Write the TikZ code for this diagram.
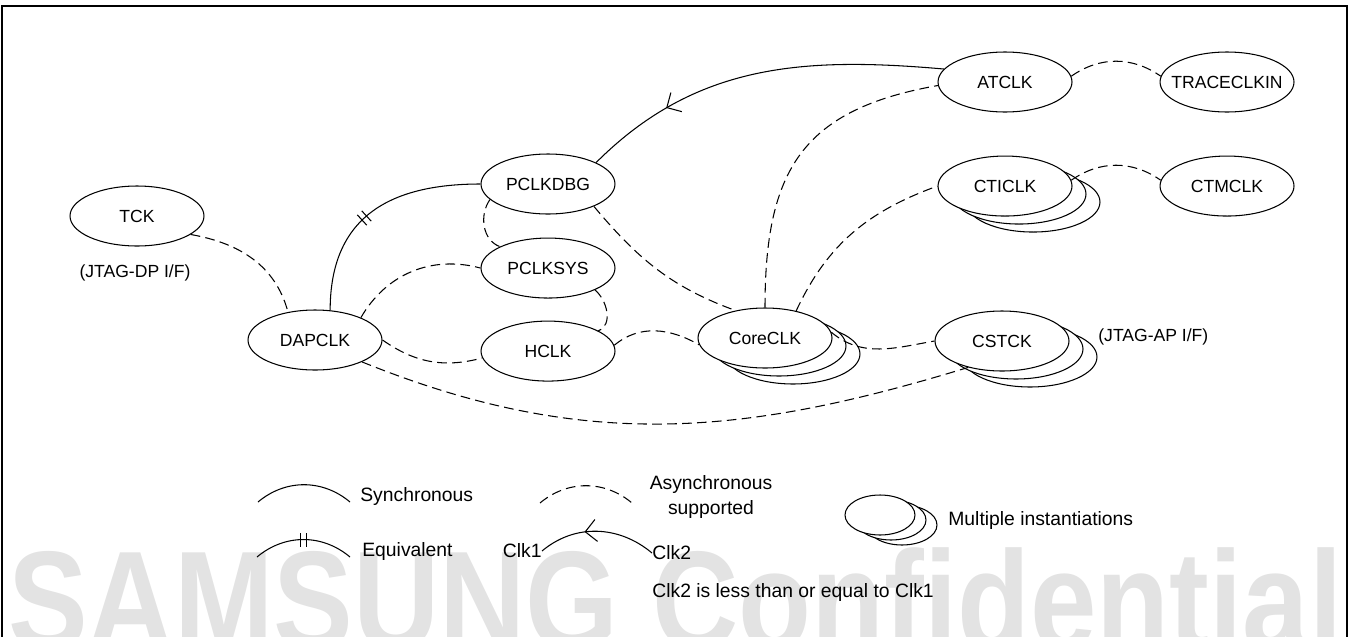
\documentclass[tikz,border=0pt]{standalone}
\usepackage{fontspec}
\setmainfont{Liberation Sans}
\usepackage{tikz}
\usetikzlibrary{positioning,shapes.geometric,shadows,decorations.markings}
\definecolor{wmgray}{HTML}{E3E3E3}
\tikzset{
  clk/.style={ellipse, draw, fill=white, line width=0.6pt, minimum width=2.68cm, minimum height=1.2cm, inner sep=0pt, font=\fontsize{10}{12}\selectfont},
  multi/.style={double copy shadow={shadow xshift=0.28cm, shadow yshift=-0.16cm, fill=white, draw=black, line width=0.6pt}},
  lbl/.style={inner sep=0pt, font=\fontsize{10}{12}\selectfont},
  leg/.style={inner sep=0pt, font=\fontsize{11}{14}\selectfont},
  sync/.style={line width=0.6pt},
  async/.style={line width=0.6pt, dash pattern=on 5.5pt off 3pt},
  equiv/.style={postaction={decorate, decoration={markings, mark=at position #1 with {\draw[solid] (-3,-7) -- (-3,7) (3,-7) -- (3,7);}}}},
  slower/.style={postaction={decorate, decoration={markings, mark=at position #1 with {\draw[solid] (11,-11) -- (0,0) -- (11,11);}}}},
  wmark/.style={inner sep=0pt, text=wmgray, font=\fontsize{80}{90}\selectfont\bfseries},
  frame/.style={line width=1.2pt}
}

\begin{document}
\begin{tikzpicture}[x=0.02cm, y=0.02cm]
  \useasboundingbox (0,0) rectangle (1355,-636);
  % watermark and frame
  \node[wmark, anchor=base west, xscale=0.85] (wm) at (8,-649) {SAMSUNG Confidential};
  \draw[frame] (2,-640) -- (2,-6) -- (1347,-6) -- (1347,-640);

  % clock domains
  \node[clk] (tck) at (137,-216) {TCK};
  \node[lbl] (jtagdp) at (135,-273) {(JTAG-DP I/F)};
  \node[clk] (dapclk) at (315,-340) {DAPCLK};
  \node[clk] (pclkdbg) at (548,-184) {PCLKDBG};
  \node[clk, below=0.46cm of pclkdbg] (pclksys) {PCLKSYS};
  \node[clk, below=0.44cm of pclksys] (hclk) {HCLK};
  \node[clk, multi] (coreclk) at (765,-338) {CoreCLK};
  \node[clk, multi] (cstck) at (1002,-341) {CSTCK};
  \node[lbl, anchor=west] (jtagap) at (1098,-337) {(JTAG-AP I/F)};
  \node[clk] (atclk) at (1005,-82) {ATCLK};
  \node[clk, right=1.74cm of atclk] (traceclkin) {\makebox[0pt]{TRACECLKIN}};
  \node[clk, multi, below=0.86cm of atclk] (cticlk) {CTICLK};
  \node[clk, right=1.74cm of cticlk] (ctmclk) {CTMCLK};

  % relations
  \draw[async] (tck.-19) to[out=-10, in=105] (dapclk.134);
  \draw[sync, equiv=0.45] (dapclk.63) to[out=90, in=180, looseness=1.2] (pclkdbg.west);
  \draw[sync, slower=0.24] (pclkdbg.24) to[out=45, in=175] (atclk.168);
  \draw[async] (pclkdbg.195) to[out=235, in=160] (pclksys.156);
  \draw[async] (pclksys.-25) to[out=-40, in=20] (hclk.22);
  \draw[async] (dapclk.26) to[out=60, in=165] (pclksys.west);
  \draw[async] (dapclk.east) to[out=-35, in=195] (hclk.186);
  \draw[async] (dapclk.-25) to[out=-22, in=197] (cstck.218);
  \draw[async] (pclkdbg.-26) to[out=-50, in=160] (coreclk.137);
  \draw[async] (hclk.5) to[out=40, in=150] (coreclk.186);
  \draw[async] (coreclk.90) to[out=90, in=190, looseness=1.25] (atclk.183);
  \draw[async] (coreclk.41) to[out=65, in=200] (cticlk.west);
  \draw[async] (coreclk.5) to[out=-40, in=190] (cstck.west);
  \draw[async] (atclk.5) to[out=35, in=145] (traceclkin.175);
  \draw[async] (cticlk.5) to[out=35, in=145] (ctmclk.175);

  % legend
  \coordinate (syncl) at (258,-502);
  \coordinate (syncr) at (350,-502);
  \draw[sync] (syncl) to[out=40, in=140] (syncr);
  \node[leg, anchor=west] (synctxt) at (360,-496) {Synchronous};
  \coordinate (equivl) at (257,-557);
  \coordinate (equivr) at (350,-557);
  \draw[sync, equiv=0.5] (equivl) to[out=40, in=140] (equivr);
  \node[leg, anchor=west] (equivtxt) at (362,-551) {Equivalent};
  \coordinate (asyncl) at (540,-503);
  \coordinate (asyncr) at (632,-503);
  \draw[async] (asyncl) to[out=40, in=140] (asyncr);
  \node[leg, align=center] (asynctxt) at (711,-497) {Asynchronous\\supported};
  \node[leg, anchor=east] (clkone) at (542,-551) {Clk1};
  \node[leg, anchor=west] (clktwo) at (652,-553) {Clk2};
  \draw[sync, slower=0.4] (clkone.east) to[out=40, in=140] (clktwo.west);
  \node[clk, minimum width=1.4cm, minimum height=0.8cm, double copy shadow={shadow xshift=0.22cm, shadow yshift=-0.1cm, fill=white, draw=black, line width=0.6pt}] (legmulti) at (880,-515) {};
  \node[leg, anchor=west] (multitxt) at (948,-520) {Multiple instantiations};
  \node[leg, anchor=west] (ruletxt) at (652,-592) {Clk2 is less than or equal to Clk1};
\end{tikzpicture}
\end{document}
